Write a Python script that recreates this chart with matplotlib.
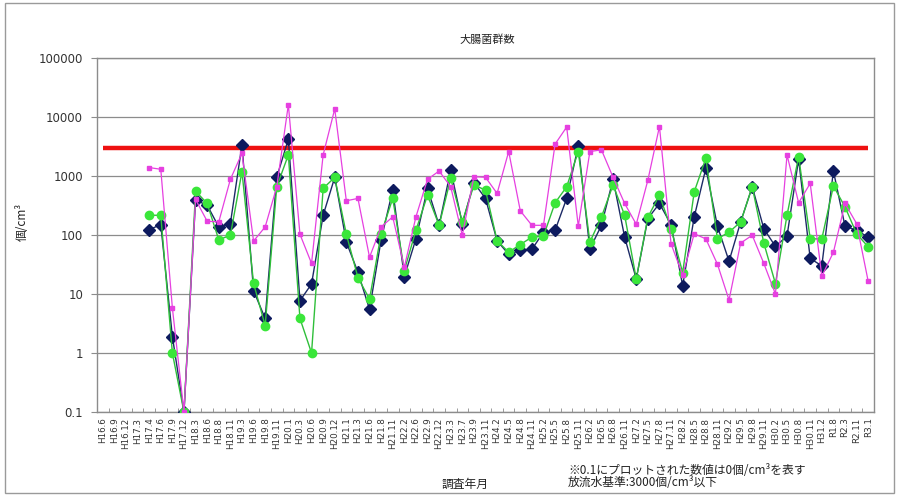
import matplotlib
matplotlib.use("Agg")
import matplotlib.pyplot as plt
import numpy as np
from matplotlib.ticker import FixedLocator, NullFormatter

plt.rcParams['font.family'] = ['Noto Sans CJK JP', 'DejaVu Sans']

labels = ["H16.6", "H16.9", "H16.12", "H17.3", "H17.4", "H17.6", "H17.9", "H17.12",
          "H18.3", "H18.6", "H18.8", "H18.11", "H19.3", "H19.6", "H19.8", "H19.11",
          "H20.1", "H20.3", "H20.6", "H20.9", "H20.12", "H21.1", "H21.3", "H21.6",
          "H21.8", "H21.11", "H22.2", "H22.6", "H22.9", "H22.12", "H23.3", "H23.7",
          "H23.9", "H23.11", "H24.2", "H24.5", "H24.8", "H24.11", "H25.2", "H25.5",
          "H25.8", "H25.11", "H26.2", "H26.5", "H26.8", "H26.11", "H27.2", "H27.5",
          "H27.8", "H27.11", "H28.2", "H28.5", "H28.8", "H28.11", "H29.2", "H29.5",
          "H29.8", "H29.11", "H30.2", "H30.5", "H30.8", "H30.11", "H31.2", "R1.8",
          "R2.3", "R2.11", "R3.1"]

navy = [None, None, None, None,
        123, 150, 1.9, 0.1, 390, 320, 137, 156, 3370, 11.4, 3.85, 950, 4220, 7.7,
        14.8, 216, 950, 76, 23.4, 5.5, 83, 577, 19.7, 86, 617, 146, 1265, 156, 770,
        417, 80, 47, 55, 57, 112, 120, 417, 3240, 58, 146, 877, 92, 18, 190, 342,
        150, 13.9, 203, 1350, 141, 36, 166, 657, 128, 64, 96, 1920, 40, 30, 1216,
        141, 120, 92]

green = [None, None, None, None,
         216, 216, 1.0, 0.1, 555, 342, 83, 99, 1185, 15.2, 2.9, 657, 2280, 3.85,
         1.0, 617, 950, 103, 19, 8.2, 105, 417, 25, 120, 474, 146, 912, 166, 703,
         577, 80, 51, 69, 92, 96, 351, 657, 2600, 76, 203, 703, 216, 18, 200, 474,
         128, 23, 540, 2000, 86, 112, 166, 657, 73, 15, 216, 2140, 86, 86, 676,
         300, 105, 63]

magenta = [None, None, None, None,
           1390, 1300, 5.8, 0.1, 400, 171, 167, 877, 2430, 79, 137, 657, 16200, 103,
           33, 2280, 13700, 380, 417, 42, 137, 203, 28.5, 203, 877, 1216, 657, 99, 975,
           950, 507, 2600, 257, 146, 146, 3470, 6760, 141, 2600, 2770, 950, 342, 152, 850, 6900,
           71, 21, 105, 86, 32, 7.9, 73, 99, 33, 10, 2280, 351, 750, 20, 51,
           342, 156, 16.4]

standard = 3000

def arr(v):
    return np.array([np.nan if x is None else x for x in v], dtype=float)

x = np.arange(len(labels))

fig = plt.figure(figsize=(8.99, 4.95), dpi=100)
ax = fig.add_axes([97/899, 1-412/495, 777/899, 354/495])

# outer chart border
fig.patches.append(plt.Rectangle((0.006, 0.004), 0.988, 0.99, transform=fig.transFigure,
                                 fill=False, edgecolor='#9a9a9a', linewidth=1.0))

ax.set_yscale('log')
ax.set_ylim(0.1, 100000)
ax.set_xlim(-0.5, len(labels) - 0.5)

ax.yaxis.set_major_locator(FixedLocator([0.1, 1, 10, 100, 1000, 10000, 100000]))
ax.set_yticklabels(["0.1", "1", "10", "100", "1000", "10000", "100000"],
                   fontfamily='DejaVu Sans')
ax.yaxis.set_minor_locator(FixedLocator([]))
ax.grid(axis='y', which='major', color='#8c8c8c', linewidth=0.9)
ax.set_axisbelow(True)

ax.hlines(standard, x[0], x[-1], color='#ee1111', linewidth=3.2, zorder=2)

ax.plot(x, arr(navy), color='#1c2a66', linewidth=1.0, marker='D', markersize=6.2,
        markerfacecolor='#0d1a5e', markeredgecolor='#0d1a5e', zorder=3)
ax.plot(x, arr(green), color='#2fbf3a', linewidth=1.0, marker='o', markersize=6.0,
        markerfacecolor='#3ae63a', markeredgecolor='#3ae63a', zorder=4)
ax.plot(x, arr(magenta), color='#e640e0', linewidth=0.9, marker='s', markersize=3.2,
        markerfacecolor='#e640e0', markeredgecolor='#e640e0', zorder=5)

ax.set_xticks(x)
ax.set_xticklabels(labels, rotation=90, fontsize=6.3, color='#333333',
                   fontfamily='DejaVu Sans')
ax.tick_params(axis='x', which='major', length=0, pad=4)
ax.xaxis.set_minor_locator(FixedLocator(np.arange(-0.5, len(labels), 1.0)))
ax.xaxis.set_minor_formatter(NullFormatter())
ax.tick_params(axis='x', which='minor', direction='in', length=3, color='#8c8c8c')
ax.tick_params(axis='y', which='major', direction='out', length=4, color='#8c8c8c',
               labelsize=8.5, labelcolor='#333333', pad=6)

for s in ax.spines.values():
    s.set_color('#8c8c8c')
    s.set_linewidth(1.0)

fig.text(487/899, 1-40/495, "大腸菌群数", ha='center', va='center', fontsize=8, color='#222222')
fig.text(22/899, 1-222/495, "個/cm³", ha='center', va='center', rotation=90, fontsize=8.5,
         color='#222222')
fig.text(465/899, 1-484/495, "調査年月", ha='center', va='center', fontsize=8.5, color='#222222')
fig.text(568/899, 1-470/495, "※0.1にプロットされた数値は0個/cm³を表す", ha='left', va='center',
         fontsize=8.5, color='#222222')
fig.text(568/899, 1-483/495, "放流水基準:3000個/cm³以下", ha='left', va='center',
         fontsize=8.5, color='#222222')

fig.savefig("out.png", dpi=100)
